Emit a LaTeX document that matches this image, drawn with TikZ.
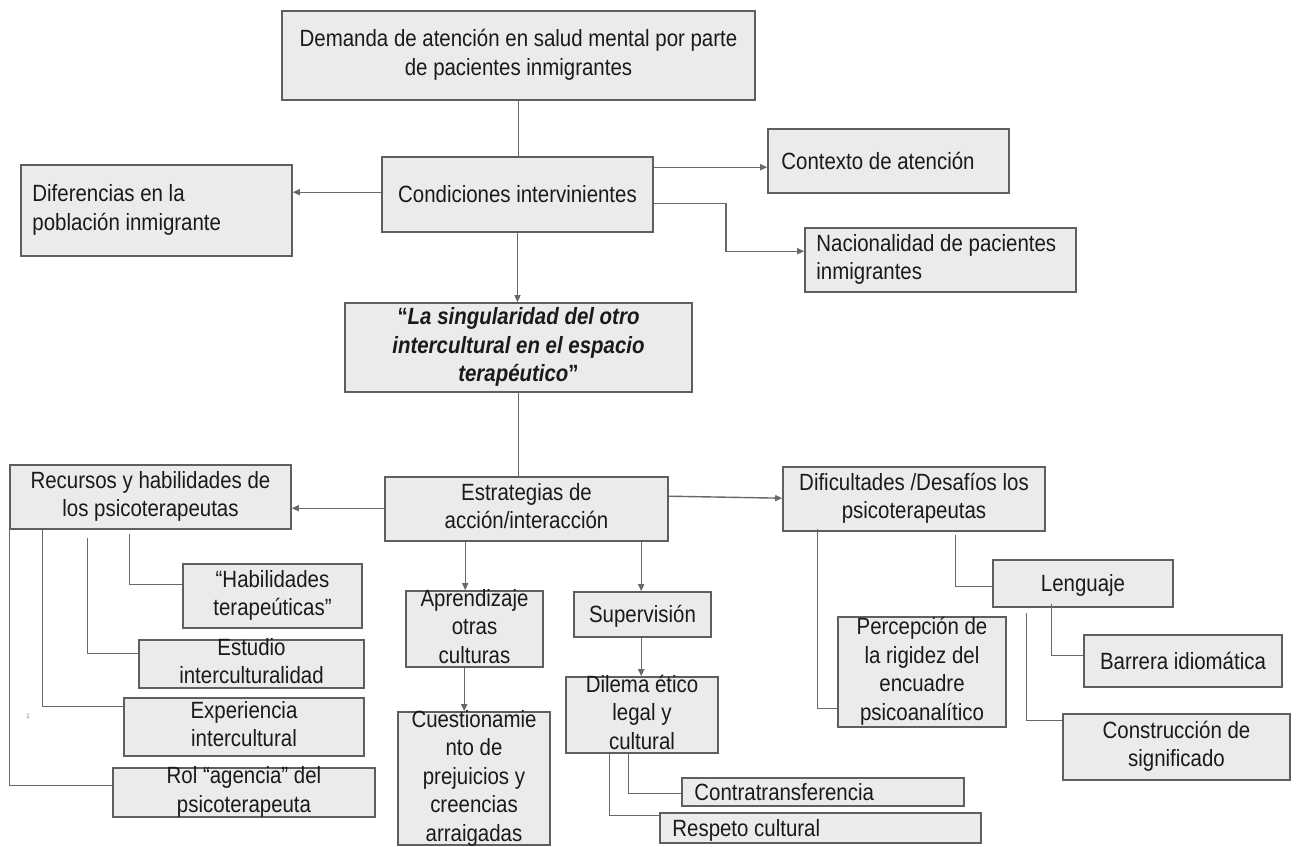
\documentclass[tikz,border=0pt]{standalone}
\usepackage{fontspec}
\setmainfont{Liberation Sans}[FakeStretch=0.87]
\usetikzlibrary{arrows.meta,fit}
\definecolor{boxfill}{HTML}{EBEBEB}
\definecolor{boxline}{HTML}{5F5F5F}
\definecolor{linecol}{HTML}{686868}
\definecolor{txtcol}{HTML}{1A1A1A}
\newcommand\topstr{\rule{0pt}{22.5pt}}
\newcommand\botstr{\rule[-6pt]{0pt}{6pt}}
\begin{document}
\begin{tikzpicture}[x=1pt,y=-1pt,
  bx/.style={draw=boxline, fill=boxfill, line width=1.6pt, inner sep=0pt},
  txt/.style={font=\fontsize{23.5}{28.5}\selectfont, text=txtcol, inner sep=0pt, align=center,
    execute at begin node=\topstr, execute at end node=\botstr},
  ltxt/.style={txt, align=left, anchor=west},
  conn/.style={draw=linecol, line width=1.4pt},
  arr/.style={conn, -{Triangle[length=7pt,width=6pt]}}]
\useasboundingbox[fill=white] (0,0) rectangle (1301,846);

% boxes
\node[bx, fit={(282,11) (755,100)}] (dem) {};
\node[bx, fit={(382,157) (653,232)}] (condic) {};
\node[bx, fit={(21,165) (292,256)}] (difer) {};
\node[bx, fit={(768,129) (1009,193)}] (contex) {};
\node[bx, fit={(805,228) (1076,292)}] (nacion) {};
\node[bx, fit={(345,303) (692,392)}] (sing) {};
\node[bx, fit={(385,477) (668,541)}] (estrat) {};
\node[bx, fit={(10,465) (291,529)}] (recur) {};
\node[bx, fit={(783,467) (1045,531)}] (dific) {};
\node[bx, fit={(183,564) (362,628)}] (habil) {};
\node[bx, fit={(139,640) (364,688)}] (estud) {};
\node[bx, fit={(124,698) (364,756)}] (exper) {};
\node[bx, fit={(113,768) (375,817)}] (rol) {};
\node[bx, fit={(406,591) (543,667)}] (aprend) {};
\node[bx, fit={(398,712) (550,845)}] (cuest) {};
\node[bx, fit={(574,592) (711,637)}] (superv) {};
\node[bx, fit={(566,677) (718,753)}] (dilema) {};
\node[bx, fit={(682,778) (964,806)}] (contra) {};
\node[bx, fit={(660,813) (981,843)}] (resp) {};
\node[bx, fit={(838,617) (1006,727)}] (percep) {};
\node[bx, fit={(993,560) (1173,607)}] (leng) {};
\node[bx, fit={(1084,635) (1282,687)}] (barr) {};
\node[bx, fit={(1063,714) (1290,780)}] (constr) {};

% texts
\node[txt] (demt) at (dem.center) {Demanda de atención en salud mental por parte\\de pacientes inmigrantes};
\node[txt] (condict) at (condic.center) {Condiciones intervinientes};
\node[ltxt] (difert) at ([xshift=12pt]difer.west) {Diferencias en la\\población inmigrante};
\node[ltxt] (context) at ([xshift=14pt]contex.west) {Contexto de atención};
\node[ltxt] (naciont) at ([xshift=12pt]nacion.west) {Nacionalidad de pacientes\\inmigrantes};
\node[txt, font=\fontsize{23.5}{28.5}\selectfont\bfseries\itshape] (singt) at (sing.center)
  {\textup{“}La singularidad del otro\\intercultural en el espacio\\terapéutico\textup{”}};
\node[txt] (estratt) at (estrat.center) {Estrategias de\\acción/interacción};
\node[txt] (recurt) at (recur.center) {Recursos y habilidades de\\los psicoterapeutas};
\node[txt] (difict) at (dific.center) {Dificultades /Desafíos los\\psicoterapeutas};
\node[txt] (habilt) at (habil.center) {“Habilidades\\terapeúticas”};
\node[txt] (estudt) at (estud.center) {Estudio\\interculturalidad};
\node[txt] (expert) at (exper.center) {Experiencia\\intercultural};
\node[txt] (rolt) at (rol.center) {Rol “agencia” del\\psicoterapeuta};
\node[txt] (aprendt) at (aprend.center) {Aprendizaje\\otras\\culturas};
\node[txt] (cuestt) at (cuest.center) {Cuestionamie\\nto de\\prejuicios y\\creencias\\arraigadas};
\node[txt] (supervt) at (superv.center) {Supervisión};
\node[txt] (dilemat) at (dilema.center) {Dilema ético\\legal y\\cultural};
\node[ltxt] (contrat) at ([xshift=13pt]contra.west) {Contratransferencia};
\node[ltxt] (respt) at ([xshift=13pt]resp.west) {Respeto cultural};
\node[txt] (percept) at (percep.center) {Percepción de\\la rigidez del\\encuadre\\psicoanalítico};
\node[txt] (lengt) at (leng.center) {Lenguaje};
\node[txt] (barrt) at (barr.center) {Barrera idiomática};
\node[txt] (constrt) at (constr.center) {Construcción de\\significado};
\node[font=\fontsize{7}{7}\selectfont, text=gray, inner sep=0pt] (mark) at (28,716) {1};

% connectors
\draw[conn] (dem.south) -- (dem.south |- condic.north);
\draw[arr] (condic.south) -- (condic.south |- sing.north);
\coordinate (c1) at ([yshift=-36pt]condic.north west);
\draw[arr] (c1) -- (c1 -| difer.east);
\coordinate (c2) at ([yshift=-11pt]condic.north east);
\draw[arr] (c2) -- (c2 -| contex.west);
\coordinate (c3) at ([yshift=-47pt]condic.north east);
\draw[arr] (c3) -- ++(72,0) |- ([yshift=-24pt]nacion.north west);
\draw[conn] (sing.south) -- (sing.south |- estrat.north);
\coordinate (e1) at ([yshift=-32pt]estrat.north west);
\draw[arr] (e1) -- (e1 -| recur.east);
\coordinate (e2) at ([yshift=-20pt]estrat.north east);
\draw[arr] (e2) -- ([yshift=-32pt]dific.north west);
\coordinate (e3) at ([xshift=81pt]estrat.south west);
\draw[arr] (e3) -- (e3 |- aprend.north);
\coordinate (e4) at ([xshift=257pt]estrat.south west);
\draw[arr] (e4) -- (e4 |- superv.north);
\coordinate (a1) at ([xshift=59pt]aprend.south west);
\draw[arr] (a1) -- (a1 |- cuest.north);
\coordinate (s1) at ([xshift=68pt]superv.south west);
\draw[arr] (s1) -- (s1 |- dilema.north);

\draw[conn] ([xshift=120pt,yshift=-4pt]recur.south west) |- ([yshift=-21pt]habil.north west);
\draw[conn] ([xshift=78pt,yshift=-8pt]recur.south west) |- ([yshift=-14pt]estud.north west);
\draw[conn] ([xshift=33pt]recur.south west) |- ([yshift=-9pt]exper.north west);
\draw[conn] (recur.south west) |- ([yshift=-18pt]rol.north west);

\draw[conn] ([xshift=35pt,yshift=3pt]dific.south west) |- ([yshift=-92pt]percep.north west);
\draw[conn] ([xshift=173pt,yshift=-3pt]dific.south west) |- ([yshift=-27pt]leng.north west);
\draw[conn] ([xshift=59pt,yshift=4pt]leng.south west) |- ([yshift=-21pt]barr.north west);
\draw[conn] ([xshift=34pt,yshift=-5pt]leng.south west) |- ([yshift=-7pt]constr.north west);

\draw[conn] ([xshift=63pt]dilema.south west) |- ([yshift=-16pt]contra.north west);
\draw[conn] ([xshift=44pt]dilema.south west) |- ([yshift=-3pt]resp.north west);
\end{tikzpicture}
\end{document}
